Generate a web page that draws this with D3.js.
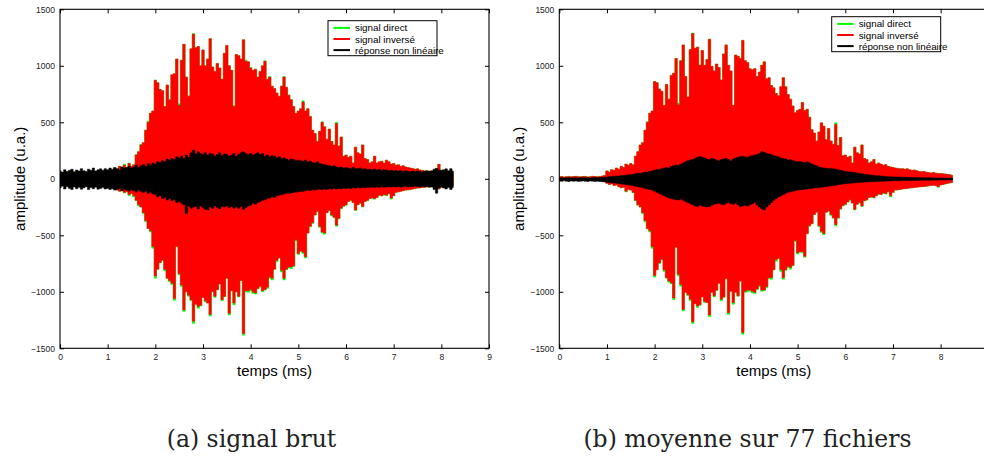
<!DOCTYPE html>
<html><head><meta charset="utf-8">
<script src="https://cdn.jsdelivr.net/npm/d3@7"></script>
<style>body{margin:0;background:#fff;}svg{display:block;}</style>
</head><body>
<svg id="c" width="984" height="456"></svg>
<script>
// ---- data ----
const sampleStep = 0.05; // ms between envelope samples, starting at 0 ms
const xTicks = [0,1,2,3,4,5,6,7,8,9];
const yTicks = [-1500,-1000,-500,0,500,1000,1500];
const seriesNames = ["signal direct","signal inversé","réponse non linéaire"];
const seriesColors = ["#00ff00","#ff0000","#000000"];
const captions = ["(a) signal brut","(b) moyenne sur 77 fichiers"];
const xTitle = "temps (ms)";
const yTitle = "amplitude (u.a.)";

// panel (a) : upper / lower envelopes
const directUpperA = [45,55,40,60,50,48,62,44,58,52,47,60,55,50,63,48,57,52,60,66,
70,80,75,95,85,110,95,130,100,140,110,125,215,240,305,320,430,510,580,600,
875,850,790,780,640,830,700,920,930,1060,665,1050,1190,900,735,1150,1285,1160,1170,1000,
1140,1000,1060,1240,990,950,1020,980,880,1110,1180,1000,960,650,1100,1090,1060,1230,1050,1035,
985,960,970,900,950,1000,1045,880,905,820,800,760,730,820,905,810,740,700,640,580,
600,620,690,600,620,555,430,400,330,420,505,460,350,440,330,300,500,290,370,200,
210,190,200,140,280,230,220,300,180,170,140,150,200,140,150,155,140,165,150,130,
135,120,125,110,115,105,100,95,92,85,88,78,75,70,65,68,70,65,90,128,70,65,75,60,70,60];
const directLowerA = [-45,-55,-50,-60,-48,-52,-58,-46,-55,-50,-60,-52,-48,-57,-53,-60,-55,-62,-58,-65,
-70,-75,-80,-90,-100,-110,-105,-125,-115,-150,-130,-160,-195,-240,-250,-310,-380,-440,-470,-615,
-880,-800,-745,-720,-815,-880,-910,-935,-1075,-600,-850,-955,-1175,-1000,-1040,-1080,-1280,-1110,-1145,-1125,
-1050,-1090,-1100,-1215,-1000,-1050,-985,-930,-1080,-1045,-880,-1205,-990,-1115,-1000,-1045,-900,-1385,-1000,-1005,
-990,-1015,-1020,-975,-960,-1000,-985,-970,-880,-895,-800,-735,-700,-825,-895,-805,-790,-795,-775,-550,
-670,-645,-660,-700,-480,-425,-395,-320,-290,-430,-480,-490,-300,-285,-330,-345,-420,-355,-265,-245,
-235,-200,-195,-210,-280,-230,-220,-250,-200,-195,-175,-175,-180,-165,-150,-150,-145,-150,-130,-180,
-150,-120,-115,-110,-105,-100,-98,-95,-90,-85,-82,-80,-78,-75,-72,-70,-70,-68,-75,-90,-70,-65,-72,-65,-70,-60];
const inverseUpperA = [45,55,40,60,50,48,62,44,58,52,47,60,55,50,63,48,57,52,60,66,
70,80,75,95,85,110,95,120,100,135,110,125,210,240,300,320,430,500,580,600,
870,850,790,780,640,830,700,920,930,1060,650,1050,1190,900,730,1150,1280,1160,1170,1000,
1140,1000,1060,1240,990,950,1020,980,880,1110,1180,1000,960,640,1100,1090,1060,1230,1040,1035,
980,960,970,900,950,1000,1040,880,900,820,800,760,730,820,900,810,740,700,640,580,
600,620,680,600,620,550,430,400,330,420,500,460,350,440,330,300,490,290,370,200,
210,190,200,140,280,230,220,300,180,170,140,150,200,140,150,155,140,165,150,130,
135,120,125,110,115,105,100,95,92,85,88,78,75,70,65,68,70,65,90,128,70,65,75,60,70,60];
const inverseLowerA = [-45,-55,-50,-60,-48,-52,-58,-46,-55,-50,-60,-52,-48,-57,-53,-60,-55,-62,-58,-65,
-70,-75,-80,-90,-100,-110,-105,-120,-115,-140,-130,-150,-190,-230,-250,-300,-370,-440,-460,-600,
-860,-800,-740,-720,-800,-880,-900,-925,-1060,-600,-840,-940,-1160,-1000,-1030,-1070,-1260,-1110,-1130,-1120,
-1050,-1080,-1100,-1200,-1000,-1040,-980,-930,-1070,-1040,-880,-1190,-990,-1100,-1000,-1040,-900,-1370,-990,-990,
-980,-1000,-1010,-970,-950,-990,-980,-960,-870,-880,-800,-720,-700,-810,-880,-800,-780,-780,-770,-540,
-660,-640,-650,-690,-480,-420,-390,-320,-290,-420,-470,-480,-300,-280,-320,-340,-410,-350,-260,-240,
-230,-200,-190,-210,-275,-230,-215,-245,-200,-190,-175,-170,-175,-165,-145,-150,-140,-145,-130,-170,
-150,-120,-115,-110,-105,-100,-98,-95,-90,-85,-82,-80,-78,-75,-72,-70,-70,-68,-75,-90,-70,-65,-72,-65,-70,-60];
const nonlinUpperA = [70,60,80,65,75,85,60,78,70,90,72,65,85,75,95,70,80,88,76,90,
80,95,85,100,90,80,105,95,100,110,95,105,120,100,115,125,110,135,120,140,
130,150,145,160,150,175,165,180,170,195,185,200,180,210,190,230,255,220,240,225,
215,230,210,225,220,200,215,230,205,220,215,200,210,225,200,215,230,240,225,215,
225,210,220,230,215,225,200,210,195,205,200,185,195,180,185,175,165,175,170,160,
165,160,155,165,150,155,145,140,150,135,130,125,120,115,110,115,105,100,105,95,
100,95,90,100,92,88,95,85,90,82,85,80,86,78,82,75,80,78,72,76,
70,74,68,72,65,70,66,62,68,64,70,66,60,68,72,65,70,85,92,78,75,80,88,72,90,70];
const nonlinLowerA = [-80,-65,-90,-70,-85,-95,-72,-88,-75,-92,-80,-70,-95,-78,-88,-74,-92,-85,-78,-90,
-85,-95,-88,-100,-92,-85,-105,-95,-100,-108,-98,-105,-115,-100,-112,-120,-110,-128,-120,-135,
-140,-160,-150,-175,-165,-187,-175,-195,-185,-210,-200,-217,-230,-305,-240,-260,-250,-246,-265,-240,
-255,-270,-276,-250,-260,-240,-255,-265,-245,-250,-240,-255,-245,-260,-250,-261,-246,-270,-255,-240,
-235,-217,-225,-210,-200,-190,-185,-175,-170,-158,-165,-150,-145,-140,-135,-128,-130,-125,-120,-118,
-115,-110,-112,-105,-100,-104,-98,-100,-95,-92,-96,-90,-94,-88,-92,-85,-90,-86,-88,-84,
-86,-82,-85,-80,-84,-78,-82,-76,-80,-75,-78,-74,-76,-72,-75,-70,-74,-72,-70,-73,
-70,-72,-68,-74,-70,-66,-72,-68,-70,-65,-68,-72,-66,-70,-68,-74,-72,-95,-128,-80,-75,-82,-90,-78,-95,-80];

// panel (b) : upper / lower envelopes
const directUpperB = [18,20,17,19,21,18,20,22,19,18,20,21,17,19,22,20,18,21,24,30,
70,60,80,75,95,85,110,100,130,120,135,125,200,240,300,320,430,505,580,600,
860,850,795,775,650,835,705,915,935,1065,670,1045,1185,905,725,1145,1290,1155,1165,1005,
1135,1005,1055,1235,995,955,1015,985,875,1105,1185,1005,955,650,1095,1085,1065,1225,1045,1030,
975,965,975,905,945,1005,1035,885,895,825,805,755,735,815,895,815,745,705,645,585,
605,615,675,605,615,545,435,405,335,415,495,465,345,445,335,305,495,295,365,205,
210,190,200,140,280,230,220,300,180,170,140,150,170,130,140,130,120,125,110,105,
100,95,92,88,90,85,88,80,75,78,72,65,62,65,58,55,52,56,50,48,46,44,42,38,35,30];
const directLowerB = [-8,-10,-7,-9,-11,-8,-10,-9,-8,-12,-10,-9,-11,-8,-10,-12,-9,-11,-14,-20,
-40,-50,-45,-60,-55,-70,-80,-75,-115,-95,-100,-125,-195,-235,-250,-310,-380,-445,-470,-615,
-870,-805,-750,-715,-820,-880,-915,-930,-1070,-605,-860,-950,-1170,-1005,-1035,-1080,-1280,-1105,-1140,-1120,
-1045,-1095,-1095,-1220,-1005,-1045,-990,-925,-1080,-1050,-885,-1200,-995,-1110,-1005,-1040,-905,-1375,-1005,-1000,
-995,-1010,-1015,-980,-955,-995,-990,-965,-885,-890,-805,-730,-705,-820,-890,-810,-785,-800,-770,-555,
-665,-650,-655,-695,-485,-420,-400,-315,-295,-425,-475,-495,-295,-290,-325,-350,-415,-350,-270,-240,
-230,-205,-190,-215,-275,-225,-215,-245,-195,-190,-165,-165,-170,-150,-140,-140,-130,-135,-115,-160,
-120,-100,-98,-95,-90,-88,-85,-82,-80,-76,-74,-72,-70,-68,-65,-62,-60,-58,-62,-75,-55,-50,-45,-40,-36,-32];
const inverseUpperB = [18,20,17,19,21,18,20,22,19,18,20,21,17,19,22,20,18,21,24,30,
70,60,80,75,95,85,110,100,130,120,135,125,200,240,300,320,430,500,580,600,
860,850,795,775,650,835,705,915,935,1065,655,1045,1185,905,725,1145,1285,1155,1165,1005,
1135,1005,1055,1235,995,955,1015,985,875,1105,1185,1005,955,650,1095,1085,1065,1225,1045,1030,
975,965,975,905,945,1005,1035,885,895,825,805,755,735,815,895,815,745,705,645,585,
605,615,675,605,615,545,435,405,335,415,495,465,345,445,335,305,480,295,365,205,
210,190,200,140,280,230,220,300,180,170,140,150,170,130,140,130,120,125,110,105,
100,95,92,88,90,85,88,80,75,78,72,65,62,65,58,55,52,56,50,48,46,44,42,38,35,30];
const inverseLowerB = [-8,-10,-7,-9,-11,-8,-10,-9,-8,-12,-10,-9,-11,-8,-10,-12,-9,-11,-14,-20,
-40,-50,-45,-60,-55,-70,-80,-75,-110,-95,-100,-120,-190,-230,-250,-300,-370,-440,-460,-600,
-855,-805,-745,-715,-805,-875,-905,-920,-1055,-605,-845,-935,-1155,-1005,-1025,-1065,-1265,-1105,-1125,-1115,
-1045,-1085,-1095,-1205,-1005,-1035,-985,-925,-1065,-1045,-885,-1185,-995,-1095,-1005,-1035,-905,-1360,-995,-985,
-985,-995,-1005,-975,-945,-985,-985,-955,-875,-875,-805,-715,-705,-805,-875,-805,-775,-785,-765,-545,
-655,-645,-645,-685,-485,-415,-395,-315,-295,-415,-465,-485,-295,-285,-315,-345,-405,-345,-265,-235,
-225,-205,-185,-215,-270,-225,-210,-240,-195,-185,-165,-160,-165,-150,-135,-140,-125,-130,-115,-150,
-120,-100,-98,-95,-90,-88,-85,-82,-80,-76,-74,-72,-70,-68,-65,-62,-60,-58,-62,-70,-55,-50,-45,-40,-36,-32];
const nonlinUpperB = [8,10,7,9,11,8,10,9,8,12,10,9,11,8,10,12,9,11,12,14,
16,18,20,22,25,24,28,30,32,35,38,40,45,50,48,55,60,58,65,70,
75,85,80,90,95,100,95,110,115,122,120,130,140,150,160,166,170,180,190,196,
190,185,175,170,180,175,165,160,170,175,180,170,160,175,185,190,196,200,195,190,
200,205,210,215,225,240,235,225,220,215,205,200,195,185,180,175,166,170,160,155,
150,152,148,145,150,140,130,122,115,105,100,95,93,90,92,88,85,80,75,70,
65,63,60,58,55,52,48,45,40,38,35,33,30,28,26,25,22,20,19,18,
17,16,15,15,14,13,13,12,12,11,11,10,10,10,9,9,9,8,8,8,8,7,7,7,6,6];
const nonlinLowerB = [-20,-22,-18,-21,-24,-19,-22,-20,-23,-21,-19,-22,-24,-20,-21,-23,-22,-24,-25,-28,
-30,-32,-35,-38,-40,-42,-45,-48,-52,-55,-58,-62,-66,-70,-75,-80,-85,-90,-95,-99,
-110,-120,-130,-140,-150,-160,-170,-175,-180,-185,-187,-180,-190,-200,-210,-220,-230,-240,-246,-235,
-240,-246,-250,-246,-235,-225,-220,-217,-225,-230,-217,-210,-220,-225,-217,-230,-246,-240,-235,-240,
-230,-220,-210,-230,-250,-265,-276,-250,-230,-210,-190,-175,-160,-150,-140,-128,-120,-115,-110,-105,
-100,-98,-95,-92,-90,-88,-85,-82,-80,-78,-75,-72,-70,-66,-62,-60,-56,-52,-50,-46,
-44,-42,-40,-38,-36,-34,-32,-30,-29,-28,-27,-26,-25,-24,-23,-22,-21,-20,-20,-19,
-18,-18,-17,-17,-16,-16,-15,-15,-15,-14,-14,-14,-13,-13,-13,-12,-12,-12,-12,-11,-11,-11,-10,-10,-10,-10];

// ---- layout ----
const panels = [
  {left:60, caption:captions[0], legend:{x:328, y:20.7},
   series:[[directUpperA,directLowerA],[inverseUpperA,inverseLowerA],[nonlinUpperA,nonlinLowerA]]},
  {left:559.3, caption:captions[1], legend:{x:831.7, y:16.7},
   series:[[directUpperB,directLowerB],[inverseUpperB,inverseLowerB],[nonlinUpperB,nonlinLowerB]]}
];
const plotTop = 9.3, plotBottom = 348.3, plotW = 429, pageW = 984;
const svg = d3.select("#c");
const sans = "'Liberation Sans', Arial, Helvetica, sans-serif";

panels.forEach((p, pi) => {
  const x = d3.scaleLinear().domain([0, 9]).range([p.left, p.left + plotW]);
  const y = d3.scaleLinear().domain([-1500, 1500]).range([plotBottom, plotTop]);
  const g = svg.append("g");
  const clipId = "clip" + pi;
  svg.append("clipPath").attr("id", clipId).append("rect")
    .attr("x", p.left).attr("y", plotTop).attr("width", plotW).attr("height", plotBottom - plotTop);

  const plot = g.append("g").attr("clip-path", `url(#${clipId})`);
  p.series.forEach((s, si) => {
    const up = s[0], lo = s[1];
    const n = Math.min(up.length, lo.length);
    const area = d3.area()
      .curve(d3.curveStep)
      .x((d, i) => x(i * sampleStep))
      .y0((d, i) => y(lo[i]))
      .y1((d, i) => y(up[i]));
    plot.append("path").datum(d3.range(n))
      .attr("d", area)
      .attr("fill", seriesColors[si])
      .attr("stroke", seriesColors[si])
      .attr("stroke-width", 0.5);
  });

  // axes
  const ax = g.append("g").attr("font-family", sans);
  const bottomAxis = d3.axisBottom(x).tickValues(xTicks).tickSizeInner(-4).tickSizeOuter(0).tickPadding(6).tickFormat(d3.format(""));
  const topAxis = d3.axisTop(x).tickValues(xTicks).tickSizeInner(-4).tickSizeOuter(0).tickFormat("");
  const leftAxis = d3.axisLeft(y).tickValues(yTicks).tickSizeInner(-4).tickSizeOuter(0).tickPadding(5).tickFormat(d3.format(""));
  const rightAxis = d3.axisRight(y).tickValues(yTicks).tickSizeInner(-4).tickSizeOuter(0).tickFormat("");
  const gb = ax.append("g").attr("transform", `translate(0,${plotBottom})`).call(bottomAxis);
  const gt = ax.append("g").attr("transform", `translate(0,${plotTop})`).call(topAxis);
  const gl = ax.append("g").attr("transform", `translate(${p.left},0)`).call(leftAxis);
  const gr = ax.append("g").attr("transform", `translate(${p.left + plotW},0)`).call(rightAxis);
  [gb, gt, gl, gr].forEach(a => {
    a.select(".domain").remove();
    a.selectAll(".tick line").attr("stroke", "#000").attr("stroke-width", 1);
    a.selectAll(".tick text").attr("font-size", 8.5).attr("font-family", sans).attr("fill", "#222");
  });
  // tick labels that fall past the page edge are not shown (as in the reference)
  gb.selectAll(".tick").filter(d => x(d) > pageW - 4).select("text").remove();
  g.append("rect").attr("x", p.left).attr("y", plotTop).attr("width", plotW).attr("height", plotBottom - plotTop)
    .attr("fill", "none").attr("stroke", "#000").attr("stroke-width", 1.1);

  // axis titles
  g.append("text").attr("x", x(4.5)).attr("y", 376).attr("text-anchor", "middle")
    .attr("font-family", sans).attr("font-size", 15).attr("fill", "#000").text(xTitle);
  g.append("text").attr("transform", `translate(${p.left - 41},${(plotTop + plotBottom) / 2}) rotate(-90)`)
    .attr("text-anchor", "middle").attr("dominant-baseline", "central")
    .attr("font-family", sans).attr("font-size", 15).attr("fill", "#000").text(yTitle);

  // legend
  const L = p.legend;
  const lg = g.append("g");
  lg.append("rect").attr("x", L.x).attr("y", L.y).attr("width", 109).attr("height", 35)
    .attr("fill", "#fff").attr("stroke", "#000").attr("stroke-width", 1);
  seriesNames.forEach((name, si) => {
    const ry = L.y + 7.2 + si * 11.1;
    lg.append("line").attr("x1", L.x + 5.5).attr("x2", L.x + 22).attr("y1", ry).attr("y2", ry)
      .attr("stroke", seriesColors[si]).attr("stroke-width", 2);
    lg.append("text").attr("x", L.x + 27).attr("y", ry).attr("dominant-baseline", "central")
      .attr("font-family", sans).attr("font-size", 9.8).attr("fill", "#000").text(name);
  });

  // caption
  g.append("text").attr("x", pi === 0 ? 251.5 : 747.5).attr("y", 446.5).attr("text-anchor", "middle")
    .attr("font-family", "'DejaVu Serif', 'Liberation Serif', serif").attr("font-size", 23.5)
    .attr("fill", "#222").text(p.caption);
});
</script>
</body></html>
